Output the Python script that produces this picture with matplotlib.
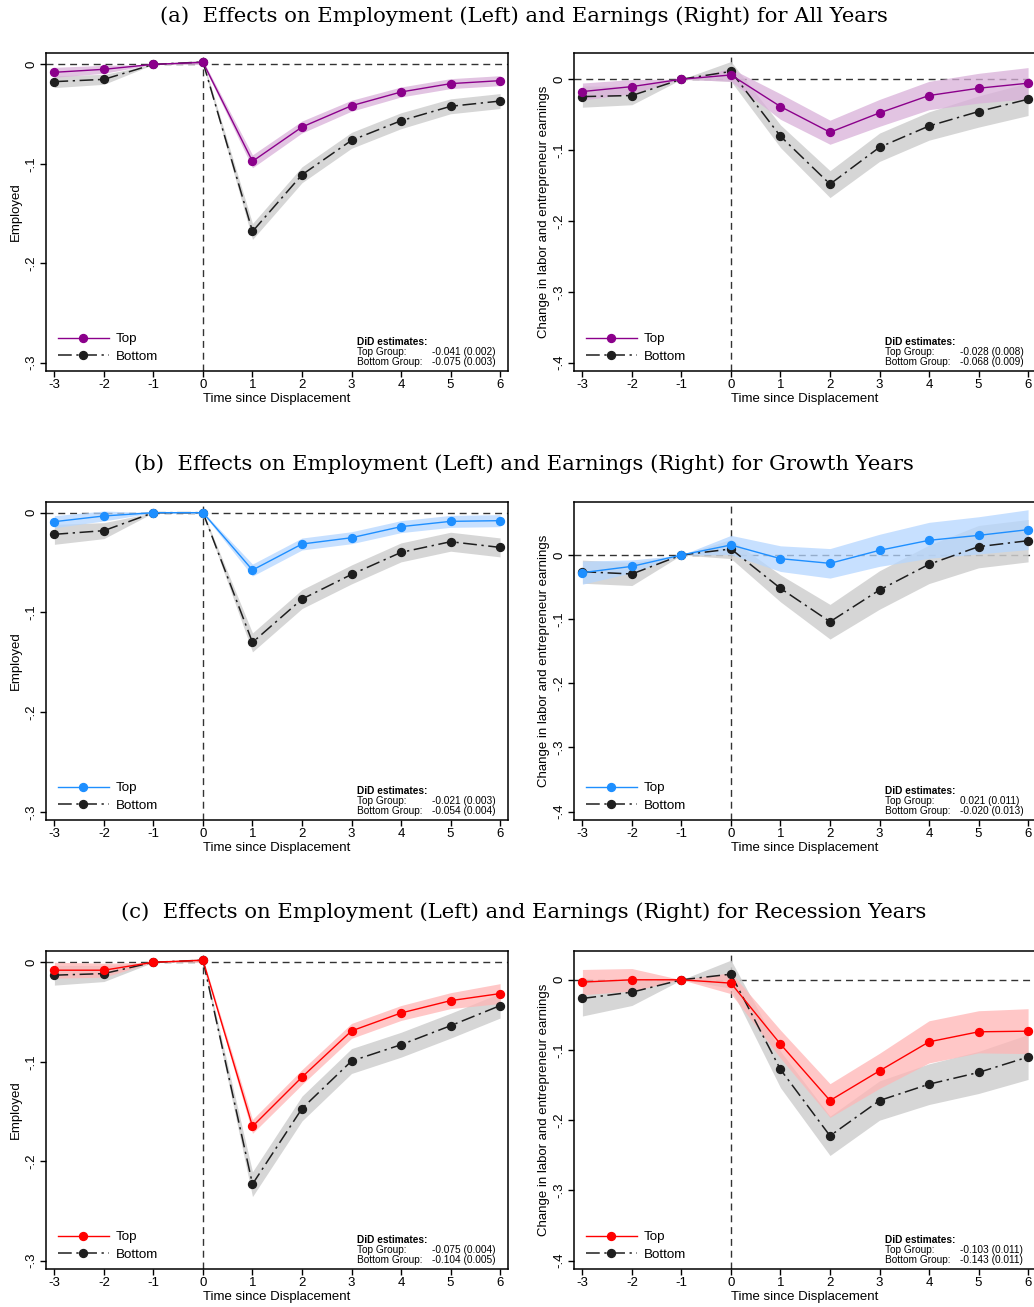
import matplotlib
matplotlib.use("Agg")
import matplotlib.pyplot as plt
import numpy as np

# ---------------- data ----------------
years = [-3, -2, -1, 0, 1, 2, 3, 4, 5, 6]

# (a) All years
a_emp_top = [-0.008, -0.005, 0.0, 0.002, -0.0975, -0.063, -0.0416, -0.0278, -0.0194, -0.0164]
a_emp_top_se = [0.005, 0.004, 0.0, 0.002, 0.0065, 0.006, 0.0055, 0.005, 0.005, 0.005]
a_emp_bot = [-0.0174, -0.0151, 0.0, 0.0023, -0.168, -0.111, -0.0764, -0.0567, -0.0422, -0.0369]
a_emp_bot_se = [0.006, 0.005, 0.0, 0.002, 0.008, 0.008, 0.008, 0.008, 0.0075, 0.0075]
a_earn_top = [-0.0174, -0.0104, 0.0, 0.006, -0.0386, -0.0748, -0.0475, -0.023, -0.0127, -0.0056]
a_earn_top_se = [0.012, 0.010, 0.0, 0.009, 0.018, 0.017, 0.019, 0.020, 0.021, 0.022]
a_earn_bot = [-0.0245, -0.023, 0.0, 0.011, -0.0805, -0.148, -0.096, -0.066, -0.0456, -0.0282]
a_earn_bot_se = [0.015, 0.013, 0.0, 0.014, 0.016, 0.019, 0.020, 0.020, 0.022, 0.023]

# (b) Growth years
b_emp_top = [-0.009, -0.0033, 0.0, 0.0, -0.0575, -0.0314, -0.0251, -0.014, -0.0087, -0.008]
b_emp_top_se = [0.006, 0.005, 0.0, 0.001, 0.006, 0.006, 0.006, 0.006, 0.006, 0.006]
b_emp_bot = [-0.0217, -0.018, 0.0, 0.0, -0.130, -0.0866, -0.0619, -0.0398, -0.0291, -0.0348]
b_emp_bot_se = [0.01, 0.008, 0.0, 0.001, 0.0095, 0.0095, 0.0095, 0.0095, 0.0095, 0.0095]
b_earn_top = [-0.0275, -0.0177, 0.0, 0.0156, -0.0057, -0.013, 0.0073, 0.0229, 0.0306, 0.0395]
b_earn_top_se = [0.018, 0.010, 0.0, 0.015, 0.020, 0.023, 0.025, 0.028, 0.029, 0.031]
b_earn_bot = [-0.026, -0.0296, 0.0, 0.0094, -0.052, -0.104, -0.0545, -0.0145, 0.013, 0.0223]
b_earn_bot_se = [0.018, 0.018, 0.0, 0.015, 0.021, 0.027, 0.030, 0.030, 0.033, 0.033]

# (c) Recession years
c_emp_top = [-0.008, -0.008, 0.0, 0.002, -0.165, -0.1154, -0.069, -0.051, -0.0386, -0.0315]
c_emp_top_se = [0.008, 0.007, 0.0, 0.002, 0.007, 0.0075, 0.0075, 0.0075, 0.008, 0.01]
c_emp_bot = [-0.013, -0.0114, 0.0, 0.002, -0.223, -0.147, -0.0993, -0.0829, -0.0638, -0.0436]
c_emp_bot_se = [0.01, 0.008, 0.0, 0.002, 0.0125, 0.0125, 0.0125, 0.0125, 0.0125, 0.0125]
c_earn_top = [-0.0033, 0.0, 0.0, -0.0048, -0.0917, -0.172, -0.1297, -0.0884, -0.0741, -0.0732]
c_earn_top_se = [0.018, 0.016, 0.0, 0.015, 0.020, 0.024, 0.025, 0.030, 0.030, 0.032]
c_earn_bot = [-0.0266, -0.0176, 0.0, 0.008, -0.1278, -0.2223, -0.172, -0.1487, -0.132, -0.110]
c_earn_bot_se = [0.025, 0.019, 0.0, 0.020, 0.026, 0.028, 0.028, 0.029, 0.030, 0.032]

titles = [
    "(a)  Effects on Employment (Left) and Earnings (Right) for All Years",
    "(b)  Effects on Employment (Left) and Earnings (Right) for Growth Years",
    "(c)  Effects on Employment (Left) and Earnings (Right) for Recession Years",
]
did_emp = [("-0.041 (0.002)", "-0.075 (0.003)"),
           ("-0.021 (0.003)", "-0.054 (0.004)"),
           ("-0.075 (0.004)", "-0.104 (0.005)")]
did_earn = [("-0.028 (0.008)", "-0.068 (0.009)"),
            ("0.021 (0.011)", "-0.020 (0.013)"),
            ("-0.103 (0.011)", "-0.143 (0.011)")]

emp_ticks = [0, -0.1, -0.2, -0.3]
emp_ticklabels = ["0", "-.1", "-.2", "-.3"]
earn_ticks = [0, -0.1, -0.2, -0.3, -0.4]
earn_ticklabels = ["0", "-.1", "-.2", "-.3", "-.4"]
x_ticklabels = [str(y) for y in years]

emp_ylims = [(-0.3083, 0.0114), (-0.308, 0.0107), (-0.3083, 0.0113)]
earn_ylims = [(-0.4117, 0.037), (-0.413, 0.0826), (-0.412, 0.041)]

top_colors = ["#8B008B", "#1E8FFF", "#FF0000"]
band_colors = ["#D9B0D9", "#B5D6FF", "#FFB5B5"]
bot_color = "#1E1E1E"
bot_band = "#CFCFCF"

rows = [
    (a_emp_top, a_emp_top_se, a_emp_bot, a_emp_bot_se, a_earn_top, a_earn_top_se, a_earn_bot, a_earn_bot_se),
    (b_emp_top, b_emp_top_se, b_emp_bot, b_emp_bot_se, b_earn_top, b_earn_top_se, b_earn_bot, b_earn_bot_se),
    (c_emp_top, c_emp_top_se, c_emp_bot, c_emp_bot_se, c_earn_top, c_earn_top_se, c_earn_bot, c_earn_bot_se),
]

# ---------------- layout ----------------
W, H = 1034, 1307
fig = plt.figure(figsize=(W / 100, H / 100), dpi=100)
sans = "Liberation Sans"
serif = "DejaVu Serif"

row_tops = [53, 502, 951]
row_h = 318
left_x = [46, 574]
ax_w = 462
title_y = [16, 464, 912]


def px_axes(x0, y0, w, h):
    return fig.add_axes([x0 / W, 1 - (y0 + h) / H, w / W, h / H])


def draw_panel(ax, top, top_se, bot, bot_se, color, band, ylim, ticks, ticklabels, ylabel, did):
    x = np.array(years, dtype=float)
    top = np.array(top); top_se = np.array(top_se)
    bot = np.array(bot); bot_se = np.array(bot_se)
    ax.axhline(0, color="#333333", lw=1.0, ls=(0, (5, 3.5)), zorder=1)
    ax.axvline(0, color="#333333", lw=1.0, ls=(0, (5, 3.5)), zorder=1)
    ax.fill_between(x, bot - bot_se, bot + bot_se, color=bot_band, alpha=0.85, lw=0, zorder=2)
    ax.fill_between(x, top - top_se, top + top_se, color=band, alpha=0.75, lw=0, zorder=3)
    ax.plot(x, top, color=color, lw=1.0, marker="o", ms=5.7, mec=color, mfc=color, zorder=5, label="Top")
    ax.plot(x, bot, color=bot_color, lw=1.1, ls=(0, (9, 3, 1.5, 3)), marker="o", ms=5.7,
            mec=bot_color, mfc=bot_color, zorder=4, label="Bottom")
    ax.set_xlim(-3.17, 6.16)
    ax.set_ylim(*ylim)
    ax.set_xticks(years)
    ax.set_xticklabels(x_ticklabels, fontsize=9.5, family=sans)
    ax.set_yticks(ticks)
    ax.set_yticklabels(ticklabels, fontsize=9.5, family=sans, rotation=90, va="center")
    ax.tick_params(direction="out", length=4, width=1, pad=2)
    for s in ax.spines.values():
        s.set_linewidth(1.1)
        s.set_color("black")
    ax.set_xlabel("Time since Displacement", fontsize=9.5, family=sans, labelpad=1.5)
    ax.set_ylabel(ylabel, fontsize=9.5, family=sans, labelpad=3)
    ax.legend(loc="lower left", bbox_to_anchor=(0.0, -0.012), frameon=False, numpoints=1,
              handlelength=3.8, handletextpad=0.55, labelspacing=0.38,
              prop={"family": sans, "size": 9.6})
    fs = 7.3
    ax.text(0.673, 0.092, "DiD estimates:", transform=ax.transAxes, fontsize=fs, family=sans,
            fontweight="bold", va="center", ha="left")
    ax.text(0.673, 0.0607, "Top Group:", transform=ax.transAxes, fontsize=fs, family=sans,
            va="center", ha="left")
    ax.text(0.673, 0.028, "Bottom Group:", transform=ax.transAxes, fontsize=fs, family=sans,
            va="center", ha="left")
    ax.text(0.835, 0.0607, did[0], transform=ax.transAxes, fontsize=fs, family=sans,
            va="center", ha="left")
    ax.text(0.835, 0.028, did[1], transform=ax.transAxes, fontsize=fs, family=sans,
            va="center", ha="left")


for i, r in enumerate(rows):
    et, ets, eb, ebs, rt, rts, rb, rbs = r
    axL = px_axes(left_x[0], row_tops[i], ax_w, row_h)
    draw_panel(axL, et, ets, eb, ebs, top_colors[i], band_colors[i], emp_ylims[i],
               emp_ticks, emp_ticklabels, "Employed", did_emp[i])
    axR = px_axes(left_x[1], row_tops[i], ax_w, row_h)
    draw_panel(axR, rt, rts, rb, rbs, top_colors[i], band_colors[i], earn_ylims[i],
               earn_ticks, earn_ticklabels, "Change in labor and entrepreneur earnings", did_earn[i])
    fig.text(524 / W, 1 - title_y[i] / H, titles[i], ha="center", va="center",
             fontsize=15.2, family=serif)

fig.savefig("out.png", dpi=100)
